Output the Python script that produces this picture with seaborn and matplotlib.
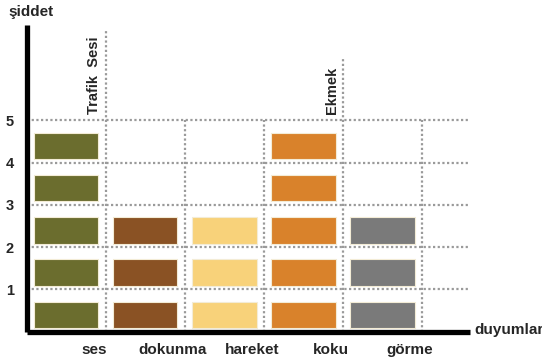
import matplotlib
matplotlib.use("Agg")
import matplotlib.pyplot as plt
import seaborn as sns
import pandas as pd

# Senses and how many intensity blocks each one reaches
duyumlar = ["ses", "dokunma", "hareket", "koku", "görme"]
siddet = [5, 3, 3, 5, 3]
renkler = ["#6b6d2e", "#8a5224", "#f8d27a", "#d9822b", "#7a7a7a"]
y_ticks = [1, 2, 3, 4, 5]

# Example annotations written above some columns
ornek_etiket = ["Trafik  Sesi", "Ekmek"]
ornek_sutun = ["ses", "koku"]

sns.set_theme(style="white")
plt.rcParams["font.family"] = ["Liberation Sans", "DejaVu Sans"]

# One row per block: column position and level
rows = []
for i, (d, n) in enumerate(zip(duyumlar, siddet)):
    for lvl in range(1, n + 1):
        rows.append({"duyum": d, "konum": i + 0.5, "seviye": lvl, "yukseklik": 0.63})
df = pd.DataFrame(rows)
palette = dict(zip(duyumlar, renkler))

fig = plt.figure(figsize=(5.42, 3.62), dpi=100)
ax = fig.add_axes([26.5 / 542, 30.5 / 362, 443.5 / 542, 306.5 / 362])

grid_kw = dict(color="#9a9a9a", linewidth=1.6, linestyle=(0, (1, 1.1)), zorder=1)

# Dotted grid: horizontal rows at each level, vertical separators between senses
for y in y_ticks:
    ax.plot([0, 5.58], [y, y], **grid_kw)
sep_top = {1: 7.15, 4: 6.45}
for x in range(1, len(duyumlar) + 1):
    ax.plot([x, x], [0, sep_top.get(x, 5)], **grid_kw)

# Stacked intensity blocks, one layer per level
bar_w = 0.82
for lvl in range(1, max(siddet) + 1):
    sub = df[df["seviye"] == lvl]
    pos = sorted(sub["konum"].unique())
    step = min(b - a for a, b in zip(pos[:-1], pos[1:])) if len(pos) > 1 else 1
    sns.barplot(data=sub, x="konum", y="yukseklik", hue="duyum", palette=palette,
                native_scale=True, dodge=False, width=bar_w / step, legend=False,
                saturation=1, bottom=lvl - 1 + 0.08, edgecolor="#f3ecd6",
                linewidth=0.8, ax=ax, zorder=2)

ax.set_xlim(0, 5.61)
ax.set_ylim(0, 7.26)

# Axis lines
for side in ["top", "right"]:
    ax.spines[side].set_visible(False)
for side in ["left", "bottom"]:
    ax.spines[side].set_visible(True)
    ax.spines[side].set_color("black")
    ax.spines[side].set_linewidth(3.8)
    ax.spines[side].set_capstyle("butt")

ax.set_xticks([i + 0.85 for i in range(len(duyumlar))])
ax.set_xticklabels(duyumlar, fontsize=11, fontweight="bold")
ax.set_yticks(y_ticks)
ax.set_yticklabels([str(v) for v in y_ticks], fontsize=10.5, fontweight="bold")
ax.tick_params(axis="x", length=0, pad=8)
ax.tick_params(axis="y", length=0, pad=9)
ax.set_xlabel("")
ax.set_ylabel("")
ax.grid(False)

# Rotated example labels above columns
for etiket, sutun in zip(ornek_etiket, ornek_sutun):
    xi = duyumlar.index(sutun) + 0.86
    ax.text(xi, 5.15, etiket, rotation=90, ha="center", va="bottom",
            fontsize=10.5, fontweight="bold", clip_on=False)

fig.text(8 / 542, 1 - 12 / 362, "şiddet", ha="left", va="center",
         fontsize=11, fontweight="bold")
fig.text(474 / 542, 1 - 330 / 362, "duyumlar", ha="left", va="center",
         fontsize=11, fontweight="bold")

fig.savefig("out.png", dpi=100)
